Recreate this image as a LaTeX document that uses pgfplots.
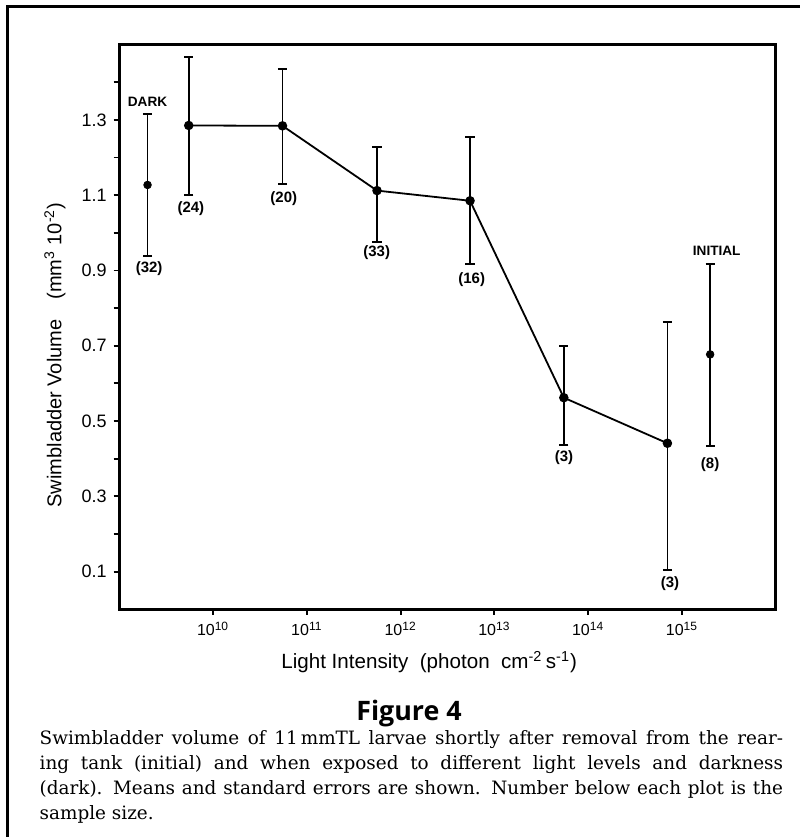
\documentclass[border=0pt]{standalone}
\usepackage{pgfplots}
\pgfplotsset{compat=1.18}
\usepackage{fontspec}
\setmainfont{Liberation Sans}
\newfontfamily\capfont{DejaVu Serif}
\newfontfamily\figfont{Open Sans}
\pgfplotstableread{
x y ep em
5.5e9 1.285 0.182 0.185
5.5e10 1.284 0.150 0.154
5.6e11 1.112 0.115 0.136
5.5e12 1.085 0.170 0.168
5.5e13 0.562 0.138 0.126
7.0e14 0.441 0.321 0.337
}\lightdata
\pgfplotstableread{
x y ep em
2.0e9 1.127 0.188 0.188
}\darkdata
\pgfplotstableread{
x y ep em
2.0e15 0.677 0.240 0.243
}\initdata
\begin{document}
\begin{tikzpicture}[x=1pt,y=1pt]
\useasboundingbox (-59.65,-113.85) rectangle (340.35,304.65);
\draw[line width=1.5pt] (-55.9,-113.85) -- (-55.9,301.6) -- (340.35,301.6);
\begin{axis}[
  at={(0,0)}, anchor=south west,
  scale only axis, width=328.2pt, height=282.4pt,
  xmode=log, xmin=1e9, xmax=1e16, ymin=0, ymax=1.5,
  axis line style={line width=1.3pt},
  xtick={1e10,1e11,1e12,1e13,1e14,1e15},
  xticklabels={10\textsuperscript{10},10\textsuperscript{11},10\textsuperscript{12},10\textsuperscript{13},10\textsuperscript{14},10\textsuperscript{15}},
  xminorticks=false,
  ytick={0.1,0.3,0.5,0.7,0.9,1.1,1.3},
  yticklabels={0.1,0.3,0.5,0.7,0.9,1.1,1.3},
  minor ytick={0.2,0.4,0.6,0.8,1.0,1.2,1.4},
  tick align=outside, xtick pos=bottom, ytick pos=left,
  major tick length=2.8pt, minor tick length=2.8pt,
  every tick/.style={line width=0.9pt, black},
  xticklabel style={font=\fontsize{8}{9}\selectfont},
  yticklabel style={font=\fontsize{9}{10}\selectfont},
  xlabel={Light Intensity\ \ (photon\ \ cm\textsuperscript{-2}\,s\textsuperscript{-1})},
  ylabel={Swimbladder Volume\quad(mm\textsuperscript{3} 10\textsuperscript{-2})},
  xlabel style={at={(axis description cs:0.472,-0.093)}, anchor=center, font=\fontsize{10.3}{12}\selectfont},
  ylabel style={at={(axis description cs:-0.098,0.45)}, anchor=center, font=\fontsize{10}{12}\selectfont},
  clip=false,
]
\addplot[black, line width=0.9pt, mark=*, mark size=1.9pt, mark options={solid, fill=black},
  error bars/.cd, y dir=both, y explicit,
  error bar style={line width=0.9pt, black},
  error mark options={rotate=90, mark size=2.3pt, line width=0.9pt, black}]
  table[x=x, y=y, y error plus=ep, y error minus=em] {\lightdata};
\addplot[black, only marks, mark=*, mark size=1.9pt, mark options={solid, fill=black},
  error bars/.cd, y dir=both, y explicit,
  error bar style={line width=0.9pt, black},
  error mark options={rotate=90, mark size=2.3pt, line width=0.9pt, black}]
  table[x=x, y=y, y error plus=ep, y error minus=em] {\darkdata};
\addplot[black, only marks, mark=*, mark size=1.9pt, mark options={solid, fill=black},
  error bars/.cd, y dir=both, y explicit,
  error bar style={line width=0.9pt, black},
  error mark options={rotate=90, mark size=2.3pt, line width=0.9pt, black}]
  table[x=x, y=y, y error plus=ep, y error minus=em] {\initdata};
\begin{scope}[every node/.style={font=\bfseries\fontsize{6.8}{8}\selectfont}]
\node at (axis cs:2.0e9,1.348) {DARK};
\node at (axis cs:2.35e15,0.952) {INITIAL};
\end{scope}
\begin{scope}[every node/.style={font=\bfseries\fontsize{7.5}{8}\selectfont}]
\node at (axis cs:2.08e9,0.904) {(32)};
\node at (axis cs:5.8e9,1.063) {(24)};
\node at (axis cs:5.68e10,1.092) {(20)};
\node at (axis cs:5.56e11,0.946) {(33)};
\node at (axis cs:5.73e12,0.875) {(16)};
\node at (axis cs:5.52e13,0.403) {(3)};
\node at (axis cs:2.0e15,0.385) {(8)};
\node at (axis cs:7.45e14,0.067) {(3)};
\end{scope}
\end{axis}
\node[font=\figfont\bfseries\fontsize{13.4}{15}\selectfont, anchor=base] at (144.85,-55.5) {Figure 4};
\begin{scope}[every node/.style={anchor=base west, inner sep=0pt, font=\capfont\fontsize{9.2}{11}\selectfont}]
\node at (-40,-67.5) {\makebox[371.7pt][s]{Swimbladder volume of 11\,mmTL larvae shortly after removal from the rear-}};
\node at (-40,-80.1) {\makebox[371.7pt][s]{ing tank (initial) and when exposed to different light levels and darkness}};
\node at (-40,-92.7) {\makebox[371.7pt][s]{(dark). Means and standard errors are shown. Number below each plot is the}};
\node at (-40,-105.3) {sample size.};
\end{scope}
\end{tikzpicture}
\end{document}
